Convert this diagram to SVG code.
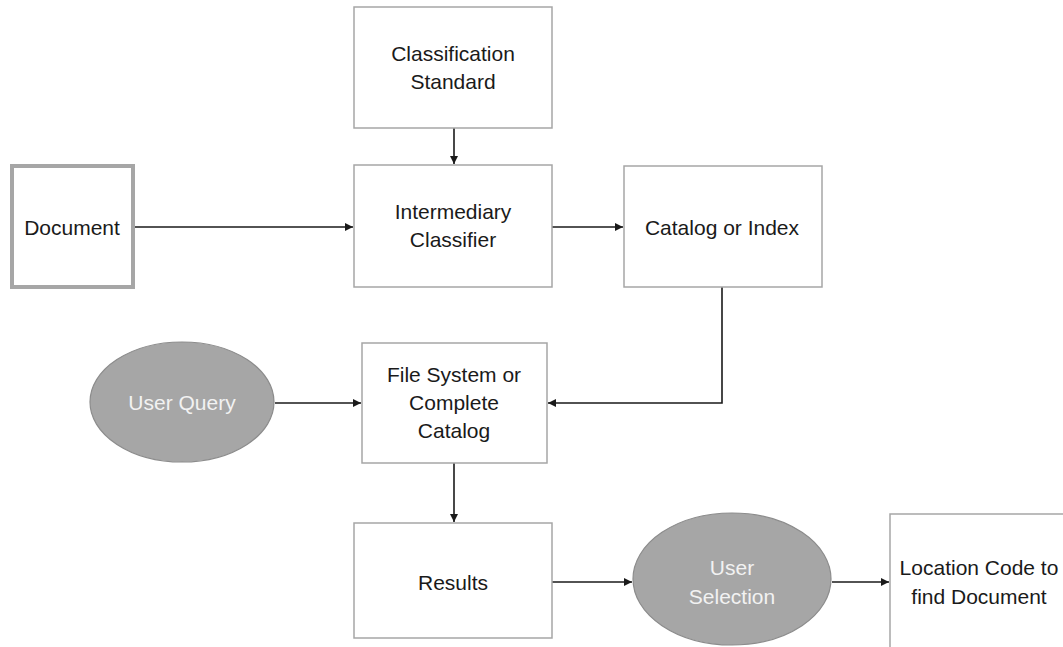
<svg xmlns="http://www.w3.org/2000/svg" width="1063" height="647" viewBox="0 0 1063 647">
  <style>
    .box { fill: #ffffff; stroke: #a6a6a6; stroke-width: 1.5; }
    .doc { fill: #ffffff; stroke: #a6a6a6; stroke-width: 4; }
    .oval { fill: #a6a6a6; stroke: #8c8c8c; stroke-width: 1.2; }
    .lbl { font-family: "Liberation Sans", Arial, sans-serif; font-size: 21px; fill: #1a1a1a; text-anchor: middle; }
    .lbl-w { font-family: "Liberation Sans", Arial, sans-serif; font-size: 21px; fill: #f2f2f2; text-anchor: middle; }
    .edge { fill: none; stroke: #1a1a1a; stroke-width: 1.6; marker-end: url(#arrow); }
  </style>
  <defs>
    <marker id="arrow" viewBox="0 0 10 10" refX="10" refY="5" markerWidth="5" markerHeight="5" orient="auto" markerUnits="strokeWidth">
      <path d="M0,0 L10,5 L0,10 z" fill="#1a1a1a"/>
    </marker>
  </defs>
  <rect width="1063" height="647" fill="#ffffff"/>

  <g id="connectors">
    <line class="edge" x1="454" y1="128" x2="454" y2="164"/>
    <line class="edge" x1="135" y1="227" x2="353" y2="227"/>
    <line class="edge" x1="552" y1="227" x2="623" y2="227"/>
    <polyline class="edge" points="722,287 722,403 548,403"/>
    <line class="edge" x1="275" y1="403" x2="361" y2="403"/>
    <line class="edge" x1="454" y1="463" x2="454" y2="522"/>
    <line class="edge" x1="552" y1="582" x2="632" y2="582"/>
    <line class="edge" x1="832" y1="582" x2="889" y2="582"/>
  </g>

  <g id="classification-standard">
    <rect class="box" x="354" y="7" width="198" height="121"/>
    <text class="lbl" x="453" y="61">Classification</text>
    <text class="lbl" x="453" y="89">Standard</text>
  </g>

  <g id="document">
    <rect class="doc" x="12" y="166" width="121" height="121"/>
    <text class="lbl" x="72" y="235">Document</text>
  </g>

  <g id="intermediary-classifier">
    <rect class="box" x="354" y="165" width="198" height="122"/>
    <text class="lbl" x="453" y="219">Intermediary</text>
    <text class="lbl" x="453" y="247">Classifier</text>
  </g>

  <g id="catalog-index">
    <rect class="box" x="624" y="166" width="198" height="121"/>
    <text class="lbl" x="722" y="235">Catalog or Index</text>
  </g>

  <g id="user-query">
    <ellipse class="oval" cx="182" cy="402" rx="92" ry="60"/>
    <text class="lbl-w" x="182" y="410">User Query</text>
  </g>

  <g id="file-system">
    <rect class="box" x="362" y="343" width="185" height="120"/>
    <text class="lbl" x="454" y="382">File System or</text>
    <text class="lbl" x="454" y="410">Complete</text>
    <text class="lbl" x="454" y="438">Catalog</text>
  </g>

  <g id="results">
    <rect class="box" x="354" y="523" width="198" height="115"/>
    <text class="lbl" x="453" y="590">Results</text>
  </g>

  <g id="user-selection">
    <ellipse class="oval" cx="732" cy="579" rx="99" ry="66"/>
    <text class="lbl-w" x="732" y="575">User</text>
    <text class="lbl-w" x="732" y="604">Selection</text>
  </g>

  <g id="location-code">
    <rect class="box" x="890" y="514" width="200" height="160"/>
    <text class="lbl" x="979" y="575">Location Code to</text>
    <text class="lbl" x="979" y="604">find Document</text>
  </g>
</svg>
